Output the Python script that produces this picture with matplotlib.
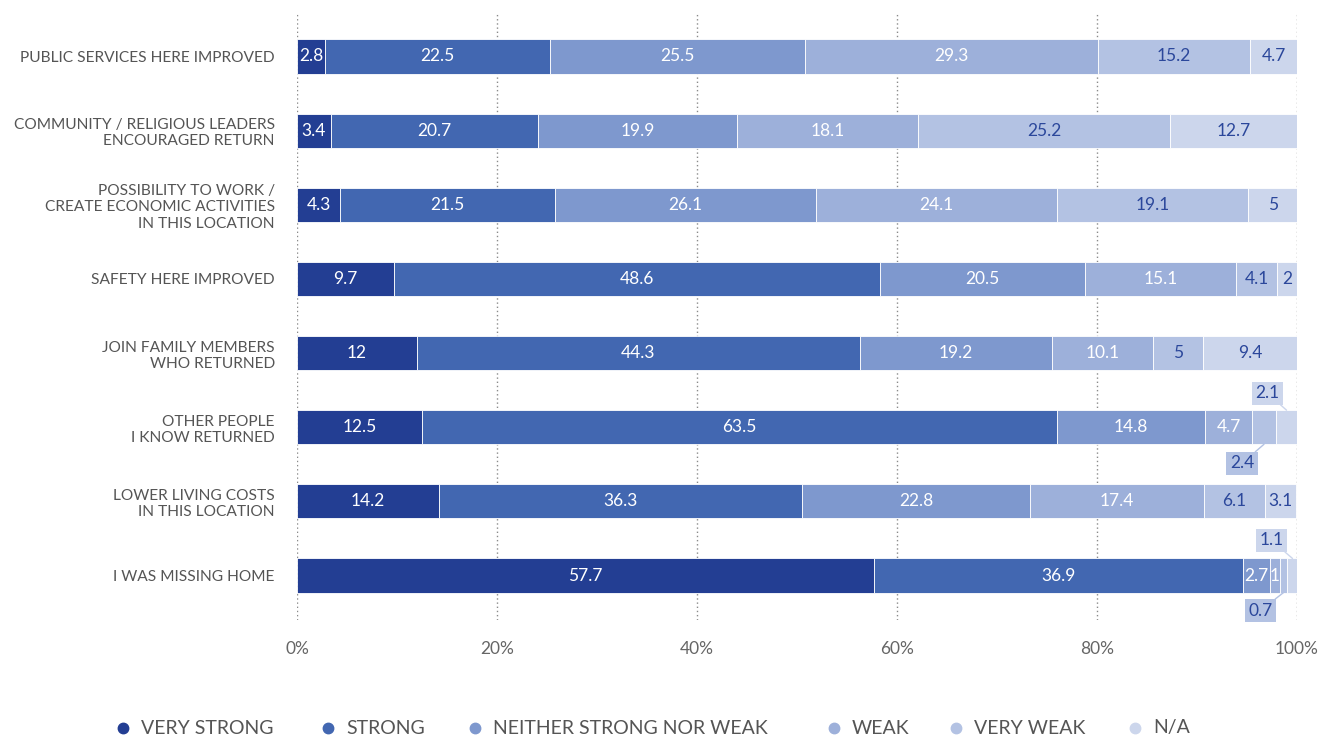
import matplotlib
matplotlib.use("Agg")
import matplotlib.pyplot as plt
from matplotlib.lines import Line2D
import numpy as np

plt.rcParams['font.family'] = ['Lato', 'DejaVu Sans']

categories = [
    "PUBLIC SERVICES HERE IMPROVED",
    "COMMUNITY / RELIGIOUS LEADERS\nENCOURAGED RETURN",
    "POSSIBILITY TO WORK /\nCREATE ECONOMIC ACTIVITIES\nIN THIS LOCATION",
    "SAFETY HERE IMPROVED",
    "JOIN FAMILY MEMBERS\nWHO RETURNED",
    "OTHER PEOPLE\nI KNOW RETURNED",
    "LOWER LIVING COSTS\nIN THIS LOCATION",
    "I WAS MISSING HOME",
]
series_names = ["VERY STRONG", "STRONG", "NEITHER STRONG NOR WEAK", "WEAK", "VERY WEAK", "N/A"]
very_strong = [2.8, 3.4, 4.3, 9.7, 12, 12.5, 14.2, 57.7]
strong      = [22.5, 20.7, 21.5, 48.6, 44.3, 63.5, 36.3, 36.9]
neither     = [25.5, 19.9, 26.1, 20.5, 19.2, 14.8, 22.8, 2.7]
weak        = [29.3, 18.1, 24.1, 15.1, 10.1, 4.7, 17.4, 1]
very_weak   = [15.2, 25.2, 19.1, 4.1, 5, 2.4, 6.1, 0.7]
na          = [4.7, 12.7, 5, 2, 9.4, 2.1, 3.1, 1.1]
series = [very_strong, strong, neither, weak, very_weak, na]
xticks = [0, 20, 40, 60, 80, 100]
xtick_labels = ["0%", "20%", "40%", "60%", "80%", "100%"]

colors = ["#233E93", "#4267B1", "#7E98CE", "#9DB0DA", "#B3C2E3", "#CCD6EC"]
text_colors = ["white", "white", "white", "white", "#2B479B", "#2B479B"]
# (row, series index) -> (offset dx px, dy px, place)
callouts = {(5, 5): (-19, 17, 'top'), (5, 4): (-22, -19, 'bottom'),
            (7, 5): (-21, 18, 'top'), (7, 4): (-23, -18, 'bottom')}

fig = plt.figure(figsize=(13.33, 7.42), dpi=100)
ax = fig.add_axes([297/1333, 1-620/742, 1000/1333, 608/742])

y = np.arange(len(categories))
h = 0.46
left = np.zeros(len(categories))
for si, vals in enumerate(series):
    vals = np.array(vals, dtype=float)
    ax.barh(y, vals, left=left, height=h, color=colors[si], edgecolor="white",
            linewidth=0.6, zorder=2)
    for ri, v in enumerate(vals):
        cx = left[ri] + v / 2
        lab = f"{v:g}"
        if (ri, si) in callouts:
            dx, dy, place = callouts[(ri, si)]
            yy = ri - h / 2 if place == 'top' else ri + h / 2
            ax.annotate(lab, xy=(cx, yy), xytext=(dx, dy), textcoords='offset pixels',
                        ha='center', va='center', fontsize=12.5, color="#2B479B",
                        bbox=dict(boxstyle='square,pad=0.2', fc=colors[si], ec='none'),
                        arrowprops=dict(arrowstyle='-', color=colors[si], lw=1,
                                        shrinkA=0, shrinkB=0), zorder=4)
        else:
            ax.text(cx, ri, lab, ha='center', va='center', fontsize=12.5,
                    color=text_colors[si], zorder=3)
    left += vals

ax.set_xlim(0, 100)
ax.set_ylim(7.6, -0.6)
ax.set_yticks(y)
ax.set_yticklabels(categories, fontsize=11.2, color="#555555", linespacing=1.2)
ax.set_xticks(xticks)
ax.set_xticklabels(xtick_labels, fontsize=12.5, color="#666666")
ax.tick_params(axis='both', length=0)
ax.tick_params(axis='y', pad=16)
ax.tick_params(axis='x', pad=15)
for s in ax.spines.values():
    s.set_visible(False)
ax.xaxis.grid(True, linestyle=(0, (1, 2)), color="#8a8a8a", linewidth=1, zorder=0)
ax.set_axisbelow(True)

# legend
marker_x = [123, 328, 475, 834, 956, 1135]
ly = 1 - 728 / 742
for mx, name, c in zip(marker_x, series_names, colors):
    fig.add_artist(Line2D([mx / 1333], [ly], marker='o', markersize=7.5, color=c,
                          linestyle='none', transform=fig.transFigure))
    fig.text((mx + 18) / 1333, ly, name, ha='left', va='center', fontsize=14,
             color="#555555")

fig.savefig("out.png", dpi=100)
